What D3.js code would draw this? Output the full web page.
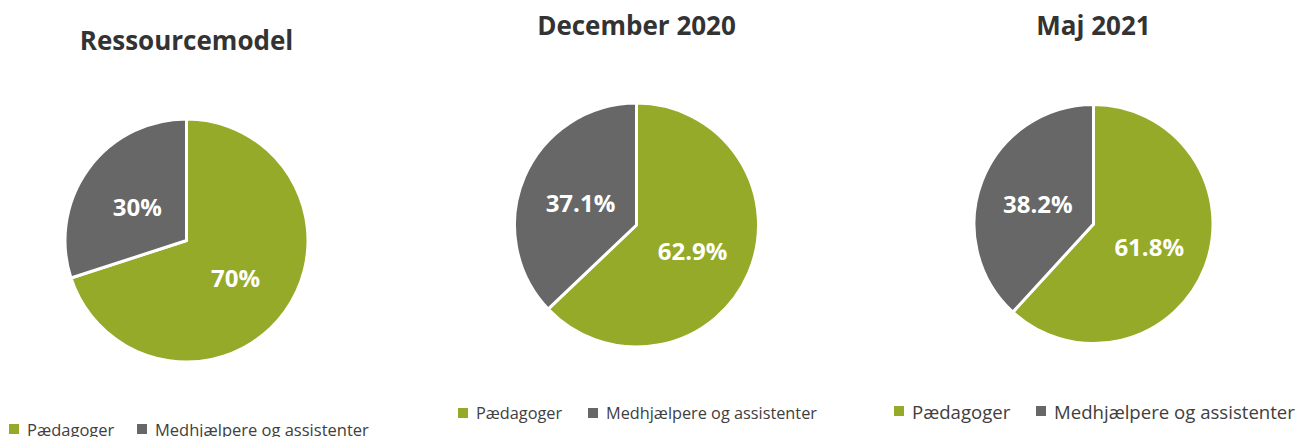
<!DOCTYPE html>
<html lang="da">
<head>
<meta charset="utf-8">
<title>Pædagoger og medhjælpere</title>
<script src="https://d3js.org/d3.v7.min.js"></script>
<style>
  body { margin: 0; background: #fff; }
  svg { font-family: "Open Sans", sans-serif; }
  .title { font-weight: bold; fill: #333; text-anchor: middle; }
  .lbl { font-weight: bold; fill: #fff; text-anchor: middle; font-size: 24px; }
  .legend text { fill: #404040; dominant-baseline: central; }
</style>
</head>
<body>
<script>
// data
var titles = ['Ressourcemodel', 'December 2020', 'Maj 2021'];
var categories = ['Pædagoger', 'Medhjælpere og assistenter'];
var paedagoger = [70, 62.9, 61.8];
var medhjaelpere = [30, 37.1, 38.2];
var labels = [['70%', '30%'], ['62.9%', '37.1%'], ['61.8%', '38.2%']];
var colors = ['#95aa29', '#676767'];

// layout per panel (lx = x of each legend square)
var panels = [
  {cx: 186.5, cy: 240.5, r: 121.5, ty: 50, tsize: 26, ly: 429, lx: [9, 137], lsize: 16.5},
  {cx: 636.5, cy: 225, r: 122, ty: 35, tsize: 26, ly: 413, lx: [458, 588], lsize: 16.3},
  {cx: 1093.5, cy: 224, r: 119.5, ty: 35, tsize: 26, ly: 411, lx: [894, 1036], lsize: 18.6}
];

var w = 1298, h = 437;
var svg = d3.select('body').append('svg').attr('width', w).attr('height', h);

var pie = d3.pie().sort(null).value(function(d){ return d; });

panels.forEach(function(p, i) {
  var vals = [paedagoger[i], medhjaelpere[i]];
  var arc = d3.arc().innerRadius(0).outerRadius(p.r);
  var lblArc = d3.arc().innerRadius(p.r * 0.5).outerRadius(p.r * 0.5);

  svg.append('text').attr('class', 'title')
    .attr('x', p.cx).attr('y', p.ty)
    .style('font-size', p.tsize + 'px')
    .text(titles[i]);

  var g = svg.append('g').attr('transform', 'translate(' + [p.cx, p.cy] + ')');
  var arcs = pie(vals);
  g.selectAll('path').data(arcs).enter().append('path')
    .attr('d', arc)
    .attr('fill', function(d, j){ return colors[j]; })
    .attr('stroke', '#fff').attr('stroke-width', 3).attr('stroke-linejoin', 'round');
  g.selectAll('.lbl').data(arcs).enter().append('text')
    .attr('class', 'lbl')
    .attr('transform', function(d){ return 'translate(' + lblArc.centroid(d) + ')'; })
    .attr('dy', '0.45em')
    .text(function(d, j){ return labels[i][j]; });

  var lg = svg.append('g').attr('class', 'legend');
  var items = lg.selectAll('g').data(categories).enter().append('g')
    .attr('transform', function(d, j){ return 'translate(' + [p.lx[j], p.ly] + ')'; });
  items.append('rect')
    .attr('x', 0).attr('y', -5).attr('width', 10).attr('height', 10)
    .attr('fill', function(d, j){ return colors[j]; });
  items.append('text')
    .attr('x', 18).attr('y', 0)
    .style('font-size', p.lsize + 'px')
    .text(function(d){ return d; });
});
</script>
</body>
</html>
